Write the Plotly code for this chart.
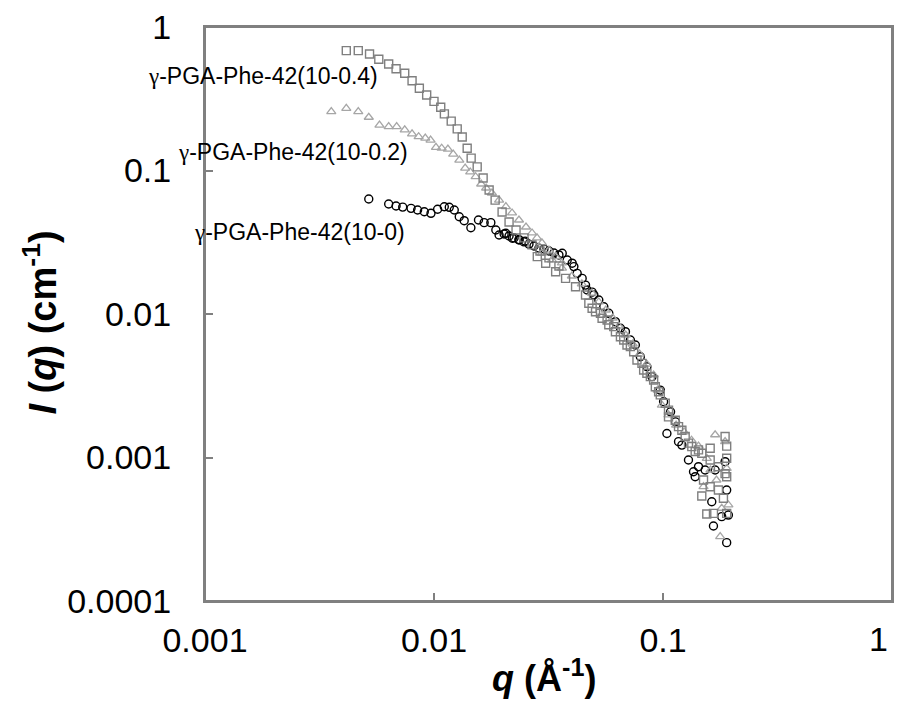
import math
import plotly.graph_objects as go

# --- gamma-PGA-Phe-42(10-0.4): squares (low-q set + high-q set) ---
q_sq = [0.00414, 0.00467, 0.00523, 0.00574, 0.00634, 0.00683, 0.00745, 0.00802, 0.00863, 0.00929,
        0.0100, 0.0107, 0.0111, 0.01189, 0.01263, 0.01328, 0.01396, 0.01453, 0.01544, 0.01639,
        0.01741, 0.01849, 0.01983, 0.02127, 0.02282, 0.02472, 0.02679, 0.02903, 0.03177, 0.03512,
        0.02825, 0.03074, 0.03398, 0.03755, 0.04151, 0.04589, 0.04744, 0.05074, 0.05420, 0.05798,
        0.06199, 0.06518, 0.06963, 0.07447, 0.07698, 0.08232, 0.08806, 0.09259, 0.09731, 0.1023,
        0.1057, 0.1131, 0.1209, 0.1292, 0.1382, 0.1477, 0.1607, 0.1867, 0.1607, 0.1746,
        0.1897, 0.1897, 0.1503, 0.1607, 0.1746, 0.1477, 0.1836, 0.1553, 0.1661, 0.1897,
        0.1867, 0.1897,
        0.04903, 0.05333, 0.05700, 0.06095, 0.06738, 0.07203, 0.08094, 0.08506, 0.09102, 0.0957,
        0.1057, 0.1169, 0.1250, 0.1336, 0.1429]
I_sq = [0.684, 0.684, 0.648, 0.596, 0.552, 0.512, 0.476, 0.422, 0.374, 0.336,
        0.303, 0.276, 0.248, 0.221, 0.195, 0.171, 0.143, 0.122, 0.106, 0.0887,
        0.0731, 0.0622, 0.0514, 0.0438, 0.0385, 0.0339, 0.0303, 0.0275, 0.0246, 0.0216,
        0.0251, 0.0226, 0.0197, 0.0177, 0.0155, 0.01356, 0.01188, 0.01038, 0.00933, 0.00841,
        0.00753, 0.00695, 0.00608, 0.00546, 0.00478, 0.00407, 0.00366, 0.00311, 0.00273, 0.00239,
        0.00214, 0.00182, 0.00155, 0.00126, 0.00110, 0.00107, 0.00116, 0.00140, 0.000961, 0.000863,
        0.000987, 0.000735, 0.000697, 0.000626, 0.000593, 0.000539, 0.000520, 0.000404, 0.000408, 0.000408,
        0.000772, 0.00120,
        0.01096, 0.01011, 0.00908, 0.00816, 0.00659, 0.00592, 0.00453, 0.00386, 0.00347, 0.00287,
        0.00192, 0.00164, 0.00140, 0.00119, 0.00113]

# --- gamma-PGA-Phe-42(10-0.2): triangles ---
q_tr = [0.00356, 0.00414, 0.00467, 0.00519, 0.00578, 0.00634, 0.00687, 0.00745, 0.00802, 0.00857,
        0.00916, 0.00966, 0.0102, 0.0108, 0.0115, 0.01213, 0.0129, 0.01368, 0.01439, 0.0152,
        0.01607, 0.01689, 0.0179, 0.01924, 0.0206, 0.02192, 0.0235, 0.02522, 0.0268, 0.02817,
        0.0296, 0.03177, 0.0340, 0.03620,
        0.02962, 0.03274, 0.03620, 0.04001, 0.04422, 0.04889, 0.05244, 0.05624, 0.06033, 0.06408,
        0.06873, 0.07372, 0.07907, 0.08482, 0.09102, 0.09474, 0.0989, 0.1057, 0.1141, 0.1237,
        0.1332, 0.1429, 0.1553, 0.1689, 0.1867, 0.1897, 0.1503, 0.1930, 0.1805, 0.1777,
        0.1612, 0.1712]
I_tr = [0.257, 0.271, 0.257, 0.235, 0.207, 0.202, 0.202, 0.192, 0.180, 0.172,
        0.168, 0.163, 0.145, 0.143, 0.141, 0.130, 0.118, 0.104, 0.0977, 0.0905,
        0.0805, 0.0755, 0.0697, 0.0622, 0.0560, 0.0506, 0.0452, 0.0404, 0.0367, 0.0339,
        0.0313, 0.0279, 0.0251, 0.0227,
        0.0266, 0.0238, 0.0209, 0.0184, 0.0162, 0.0140, 0.01213, 0.01066, 0.00938, 0.00825,
        0.00714, 0.00618, 0.00526, 0.00448, 0.00376, 0.00295, 0.00232, 0.00198, 0.00168, 0.00151,
        0.00132, 0.00120, 0.000987, 0.00144, 0.00129, 0.000841, 0.000626, 0.000467, 0.000443, 0.000281,
        0.000818, 0.000697]

# --- gamma-PGA-Phe-42(10-0): circles ---
q_ci = [0.00519, 0.00634, 0.00683, 0.00730, 0.00794, 0.00848, 0.00907, 0.00970, 0.01037, 0.01109,
        0.01166, 0.01226, 0.01289, 0.01355, 0.01449, 0.01564, 0.01656, 0.01771, 0.01862, 0.01924,
        0.02058, 0.02199, 0.0235, 0.0250,
        0.02024, 0.02127, 0.02237, 0.02352, 0.02472, 0.02599, 0.02733, 0.02873, 0.03021, 0.03177,
        0.03339, 0.03512, 0.03630, 0.03817, 0.04012, 0.04081, 0.04219, 0.04436, 0.04589, 0.04664,
        0.04903, 0.04988, 0.05244, 0.05514, 0.05798, 0.06199, 0.06518, 0.06855, 0.07203, 0.07574,
        0.07963, 0.08506, 0.08949, 0.09731, 0.1006, 0.1079, 0.1134, 0.1040, 0.1169, 0.1209,
        0.1292, 0.1359, 0.1382, 0.1429, 0.1528, 0.1689, 0.1867, 0.1897, 0.1633, 0.1805,
        0.1930, 0.1661, 0.1897]
I_ci = [0.0633, 0.0584, 0.0566, 0.0556, 0.0545, 0.0531, 0.0516, 0.0503, 0.0537, 0.0559,
        0.0554, 0.0531, 0.0476, 0.0447, 0.0399, 0.0452, 0.0433, 0.0433, 0.0385, 0.0355,
        0.0365, 0.0337, 0.0330, 0.0322,
        0.0361, 0.0350, 0.0339, 0.0328, 0.0318, 0.0307, 0.0298, 0.0288, 0.0284, 0.0275,
        0.0266, 0.0258, 0.0265, 0.0238, 0.0226, 0.0214, 0.0192, 0.0177, 0.0159, 0.0147,
        0.0142, 0.0136, 0.01252, 0.01124, 0.01011, 0.00884, 0.00795, 0.00753, 0.00659, 0.00608,
        0.00504, 0.00429, 0.00366, 0.00295, 0.00245, 0.00208, 0.00177, 0.00147, 0.00129, 0.00122,
        0.000961, 0.000796, 0.000735, 0.000863, 0.000818, 0.000818, 0.000935, 0.000593, 0.000492, 0.000387,
        0.000397, 0.000333, 0.000255]

x_ticks = [0.001, 0.01, 0.1, 1]
x_ticktext = ["0.001", "0.01", "0.1", ""]   # the "1" label is placed separately (shifted inward as in the original)
x_last_label = "1"
y_ticks = [0.0001, 0.001, 0.01, 0.1, 1]
y_ticktext = ["0.0001", "0.001", "0.01", "0.1", "1"]

labels = ["γ-PGA-Phe-42(10-0.4)", "γ-PGA-Phe-42(10-0.2)", "γ-PGA-Phe-42(10-0)"]
label_pos = [(0.00179, 0.452), (0.00242, 0.1355), (0.00259, 0.0374)]

FONT = "Liberation Sans, Arial, sans-serif"

fig = go.Figure()
fig.add_trace(go.Scatter(x=q_ci, y=I_ci, mode="markers", name=labels[2],
                         marker=dict(symbol="circle-open", size=8, color="black",
                                     line=dict(width=1.4, color="black"))))
fig.add_trace(go.Scatter(x=q_tr, y=I_tr, mode="markers", name=labels[1],
                         marker=dict(symbol="triangle-up-open", size=8, color="#a6a6a6",
                                     line=dict(width=1.3, color="#a6a6a6"))))
fig.add_trace(go.Scatter(x=q_sq, y=I_sq, mode="markers", name=labels[0],
                         marker=dict(symbol="square-open", size=8, color="#7f7f7f",
                                     line=dict(width=1.4, color="#7f7f7f"))))

for txt, (xx, yy) in zip(labels, label_pos):
    styled = txt.replace("γ", "<span style=\"font-family:'Liberation Serif'\">γ</span>")
    fig.add_annotation(x=math.log10(xx), y=math.log10(yy),
                       xref="x", yref="y", text=styled, showarrow=False,
                       xanchor="center", yanchor="middle",
                       font=dict(family=FONT, size=23, color="black"))

# last x tick label, nudged inward like the original
fig.add_annotation(xref="paper", yref="paper", x=0.98, y=-0.066, text=x_last_label,
                   showarrow=False, xanchor="center", yanchor="middle",
                   font=dict(family=FONT, size=34, color="black"))

fig.add_annotation(xref="paper", yref="paper", x=-0.2395, y=0.486,
                   text="<b><i>I</i> (<i>q</i>) (cm<sup>-1</sup>)</b>", textangle=-90,
                   showarrow=False, xanchor="center", yanchor="middle",
                   font=dict(family=FONT, size=38, color="black"))
fig.add_annotation(xref="paper", yref="paper", x=0.4935, y=-0.131,
                   text="<b><i>q</i> (Å<sup>-1</sup>)</b>",
                   showarrow=False, xanchor="center", yanchor="middle",
                   font=dict(family=FONT, size=36, color="black"))

# plot-area frame
fig.add_shape(type="rect", xref="paper", yref="paper", x0=0, y0=0, x1=1, y1=1,
              line=dict(color="#808080", width=2), fillcolor="rgba(0,0,0,0)", layer="above")

axis_common = dict(type="log", showgrid=False, zeroline=False, showline=True, mirror=True,
                   linecolor="#808080", linewidth=2, ticks="inside", ticklen=8,
                   tickcolor="#808080", tickwidth=1.5, ticklabeloverflow="allow",
                   tickfont=dict(family=FONT, size=34, color="black"))

fig.update_xaxes(range=[-3, 0], tickvals=x_ticks, ticktext=x_ticktext,
                 ticklabelstandoff=8, **axis_common)
fig.update_yaxes(range=[-4, 0], tickvals=y_ticks, ticktext=y_ticktext,
                 ticklabelstandoff=25, **axis_common)

# page body has an 8px margin: the 886x695 figure sits at (8, 8) in the 902x711 window
fig.update_layout(width=886, height=695, showlegend=False,
                  paper_bgcolor="white", plot_bgcolor="white",
                  margin=dict(l=197, r=2, t=19, b=102, autoexpand=False),
                  font=dict(family=FONT))

fig.write_html("out.html")
